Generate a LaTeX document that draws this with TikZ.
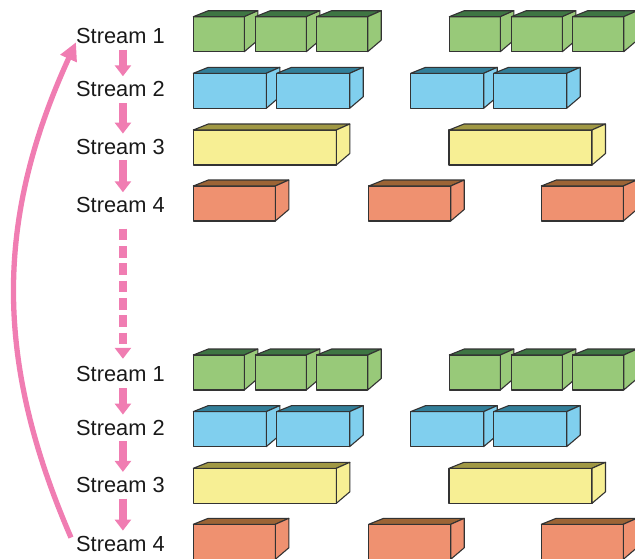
\documentclass[tikz,border=0pt]{standalone}
\usepackage{fontspec}
\setmainfont{Liberation Sans}
\usetikzlibrary{arrows.meta,positioning}
\definecolor{flowpink}{RGB}{240,125,178}
\definecolor{greenface}{RGB}{152,201,121}
\definecolor{greentop}{RGB}{62,117,67}
\definecolor{blueface}{RGB}{128,207,238}
\definecolor{bluetop}{RGB}{50,127,153}
\definecolor{yellowface}{RGB}{247,239,148}
\definecolor{yellowtop}{RGB}{160,152,68}
\definecolor{orangeface}{RGB}{239,145,112}
\definecolor{orangetop}{RGB}{156,100,53}
\definecolor{edge}{RGB}{51,51,51}
\tikzset{%
	streamlabel/.style = {inner sep=0, anchor=base west, text=black!90, font=\fontsize{21.8}{26}\selectfont},
	boxline/.style     = {draw=edge, line width=1.1pt, line join=round},
	flow/.style        = {draw=flowpink, line width=7.3pt, -{Triangle[length=11pt,width=16pt]}},
	loopback/.style    = {draw=flowpink, line width=5.3pt, -{Triangle[length=18pt,width=17pt]}},
}
% x, top y, width, face colour, top colour
\newcommand{\databox}[5]{%
	\filldraw[boxline,fill=#4] (#1,#2) rectangle ++(#3,35);
	\filldraw[boxline,fill=#5] (#1,#2) -- ++(15,-6) -- ++(#3-1.5,0) -- ++(-13.5,6) -- cycle;
	\filldraw[boxline,fill=#4] (#1+#3,#2) -- ++(13.5,-6) -- ++(0,29.5) -- ++(-13.5,11.5) -- cycle;
}

\begin{document}
\begin{tikzpicture}[x=1pt,y=-1pt]
	\useasboundingbox (0,0) rectangle (635,558);
	
	\node [streamlabel] (s1a) at (76,43.3) {Stream 1};
	\node [streamlabel] (s2a) at (76,96.7) {Stream 2};
	\node [streamlabel] (s3a) at (76,154) {Stream 3};
	\node [streamlabel] (s4a) at (76,212.7) {Stream 4};
	\node [streamlabel] (s1b) at (76,381.6) {Stream 1};
	\node [streamlabel] (s2b) at (76,435) {Stream 2};
	\node [streamlabel] (s3b) at (76,492.3) {Stream 3};
	\node [streamlabel] (s4b) at (76,551) {Stream 4};
	
	% kernels of the four streams, twice
	\foreach \g in {0,338.3} {
		\foreach \x in {193.3,255.3,316.7,449.3,511.3,572.7} {\databox{\x}{16.7+\g}{51}{greenface}{greentop}}
		\foreach \x in {193.3,276.7,410.7,493.7} {\databox{\x}{73.3+\g}{73}{blueface}{bluetop}}
		\foreach \x in {193.3,449} {\databox{\x}{130+\g}{143}{yellowface}{yellowtop}}
		\foreach \x in {193.3,368.7,541.3} {\databox{\x}{186+\g}{82}{orangeface}{orangetop}}
	}
	
	\draw[flow] ([xshift=2.5pt,yshift=-6pt]s1a.south) -- ([xshift=2.5pt,yshift=5pt]s2a.north);
	\draw[flow] ([xshift=2.5pt,yshift=-6pt]s2a.south) -- ([xshift=2.5pt,yshift=5pt]s3a.north);
	\draw[flow] ([xshift=2.5pt,yshift=-6pt]s3a.south) -- ([xshift=2.5pt,yshift=5pt]s4a.north);
	\draw[flow,dash pattern=on 11.7pt off 5.6pt] ([xshift=2.5pt,yshift=-15.6pt]s4a.south) -- ([xshift=2.5pt,yshift=7.4pt]s1b.north);
	\draw[flow] ([xshift=2.5pt,yshift=-6pt]s1b.south) -- ([xshift=2.5pt,yshift=5pt]s2b.north);
	\draw[flow] ([xshift=2.5pt,yshift=-6pt]s2b.south) -- ([xshift=2.5pt,yshift=5pt]s3b.north);
	\draw[flow] ([xshift=2.5pt,yshift=-6pt]s3b.south) -- ([xshift=2.5pt,yshift=5pt]s4b.north);
	\draw[loopback] ([xshift=-5pt,yshift=-2pt]s4b.north west) to[bend left=24] ([yshift=1.5pt]s1a.south west);
\end{tikzpicture}
\end{document}
